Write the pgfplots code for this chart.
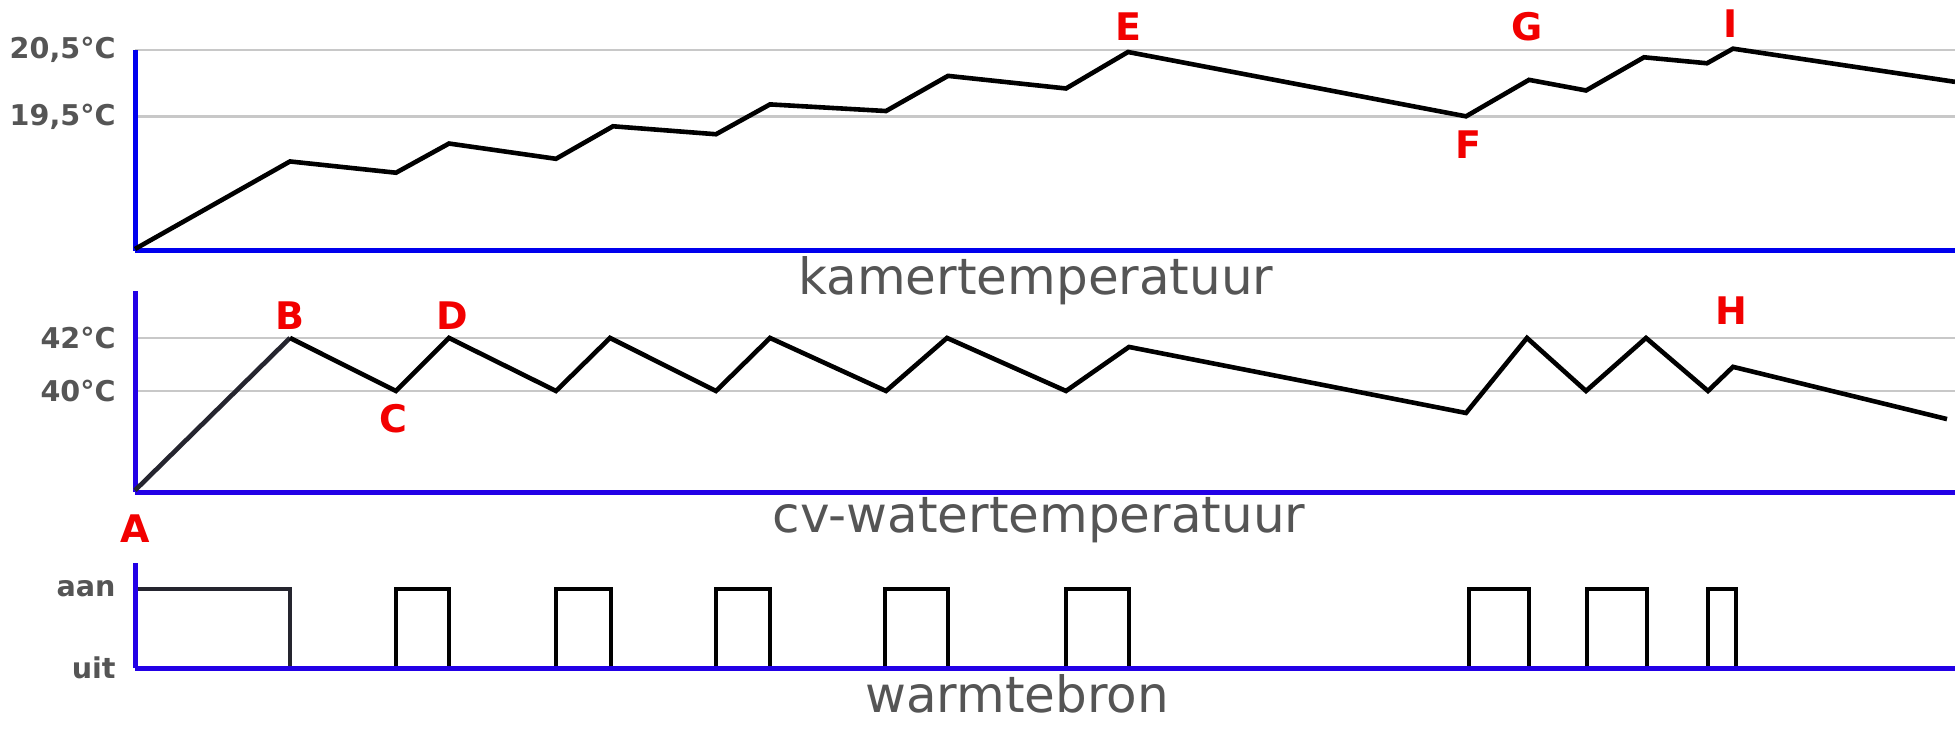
\documentclass[border=0pt]{standalone}
\usepackage{pgfplots}
\pgfplotsset{compat=1.18}
\usepackage{fontspec}
\setmainfont{DejaVu Sans}

\definecolor{axisblue}{HTML}{0000EE}
\definecolor{axisviolet}{HTML}{2200E6}
\definecolor{txtgray}{HTML}{555555}
\definecolor{gridgray}{HTML}{C8C8C8}
\definecolor{markred}{HTML}{F20000}
\definecolor{darkline}{HTML}{25252F}

\pgfplotsset{
    panel/.style={
        scale only axis, width=910pt, anchor=south west,
        xmin=0, xmax=1820, clip=false,
        axis x line*=bottom, axis y line*=left,
        xtick=\empty, major tick length=0pt,
        axis line style={line width=2.5pt},
        major grid style={gridgray, line width=1.2pt},
        yticklabel style={font=\fontsize{14.3}{16}\selectfont\bfseries, text=txtgray,
            anchor=east, inner sep=0pt, xshift=-9.5pt},
        xlabel style={font=\fontsize{25}{28}\selectfont, text=txtgray,
            at={(axis description cs:0.5,0)}, anchor=base, inner sep=0pt},
    },
    curve/.style={black, line width=2.3pt, line join=miter, no markers},
}
\tikzset{letter/.style={text=markred, font=\fontsize{19}{22}\selectfont\bfseries, inner sep=0pt}}

\begin{document}
\begin{tikzpicture}
\useasboundingbox (0,0) rectangle (977.5pt,364.5pt);

% kamertemperatuur
\begin{axis}[panel, at={(67.5pt,239pt)}, height=100.5pt,
    ymin=17.47, ymax=20.5, ytick={19.5,20.5}, yticklabels={{19,5°C},{20,5°C}},
    ymajorgrids, axis line style={axisblue},
    xlabel={kamertemperatuur}, xlabel style={yshift=-22pt, xshift=-4.5pt}]
\addplot[curve] coordinates {
    (0,17.5) (155,18.82) (261,18.65) (314,19.09) (421,18.86) (478,19.35)
    (581,19.23) (635,19.68) (751,19.58) (813,20.11) (931,19.92) (993,20.47)
    (1331,19.5) (1394,20.05) (1451,19.89) (1509,20.39) (1572,20.30)
    (1598,20.52) (1820,20.02)
};
\node[letter] at (axis cs:993,20.85) {E};
\node[letter] at (axis cs:1392,20.85) {G};
\node[letter] at (axis cs:1596,20.90) {I};
\node[letter] at (axis cs:1333,19.08) {F};
\end{axis}

% cv-watertemperatuur
\begin{axis}[panel, at={(67.5pt,118.5pt)}, height=100.5pt,
    ymin=36.19, ymax=43.77, ytick={40,42}, yticklabels={40°C,42°C},
    ymajorgrids, axis line style={axisviolet},
    xlabel={cv-watertemperatuur}, xlabel style={yshift=-20pt, xshift=-3pt}]
\addplot[curve, darkline] coordinates {(0,36.25) (155,42)};
\addplot[curve] coordinates {
    (155,42) (261,40) (314,42) (421,40) (475,42) (581,40) (635,42)
    (751,40) (812,42) (931,40) (994,41.66) (1331,39.17) (1392,42)
    (1451,40) (1511,42) (1573,40) (1598,40.91) (1812,38.94)
};
\node[letter] at (axis cs:155,42.83) {B};
\node[letter] at (axis cs:317,42.83) {D};
\node[letter] at (axis cs:258,38.94) {C};
\node[letter] at (axis cs:1596,43.02) {H};
\end{axis}

% warmtebron
\begin{axis}[panel, at={(67.5pt,30.5pt)}, height=52.5pt,
    ymin=0, ymax=1.33, ytick={0,1}, yticklabels={uit,aan},
    axis on top, axis line style={axisviolet},
    xlabel={warmtebron}, xlabel style={yshift=-22pt, xshift=-14pt}]
\addplot[curve, darkline] coordinates {(0,1) (155,1) (155,0)};
\addplot[curve] coordinates {
    (155,0) (261,0) (261,1) (314,1) (314,0)
    (421,0) (421,1) (476,1) (476,0)
    (581,0) (581,1) (635,1) (635,0)
    (750,0) (750,1) (813,1) (813,0)
    (931,0) (931,1) (994,1) (994,0)
    (1334,0) (1334,1) (1394,1) (1394,0)
    (1452,0) (1452,1) (1512,1) (1512,0)
    (1573,0) (1573,1) (1601,1) (1601,0)
    (1820,0)
};
\node[letter] at (axis cs:0,1.76) {A};
\end{axis}
\end{tikzpicture}
\end{document}
